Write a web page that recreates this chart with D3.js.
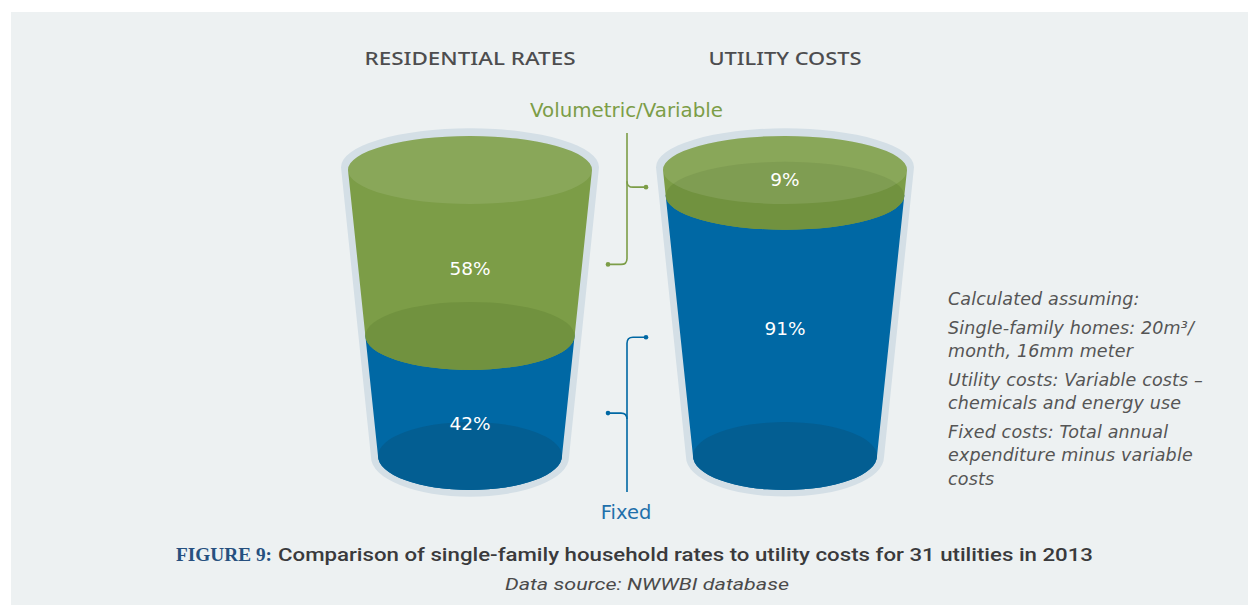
<!DOCTYPE html>
<html><head><meta charset="utf-8">
<script src="https://cdn.jsdelivr.net/npm/d3@7"></script>
<style>
html,body{margin:0;padding:0;background:#fff;}
svg{display:block;font-family:"DejaVu Sans","Noto Sans",sans-serif;}
</style></head>
<body>
<svg id="chart" width="1248" height="605"></svg>
<script>
// ---- data ----
const categories = ["RESIDENTIAL RATES", "UTILITY COSTS"];
const fixedShare = [42, 91];      // % fixed (blue, bottom)
const variableShare = [58, 9];    // % volumetric/variable (green, top)
const variableLabelLevel = [65.7, 96.9]; // where the % label sits (0-100 cup height)
const fixedLabelLevel = [11.5, 44.8];
const variableBracketLevel = [67, 94];
const fixedBracketLevel = [15, 41.5];
const seriesNames = ["Volumetric/Variable", "Fixed"];
const notes = [
  ["Calculated assuming:"],
  ["Single-family homes: 20m³/", "month, 16mm meter"],
  ["Utility costs: Variable costs –", "chemicals and energy use"],
  ["Fixed costs: Total annual", "expenditure minus variable", "costs"]
];
const captionLead = "FIGURE 9:";
const captionText = "Comparison of single-family household rates to utility costs for 31 utilities in 2013";
const sourceText = "Data source: NWWBI database";

// ---- setup ----
const svg = d3.select("#chart");
svg.append("rect").attr("x", 11).attr("y", 12).attr("width", 1248 - 11).attr("height", 605 - 12).attr("fill", "#edf1f2");

const x = d3.scalePoint().domain(categories).range([470, 785]);
const y = d3.scaleLinear().domain([0, 100]).range([456, 170]);
const r = d3.scaleLinear().domain([0, 100]).range([92, 122]);
const RY = 34;

const C = {
  glass: "#d4dfe6", green: "#7c9d47", greenDark: "#71923f",
  blue: "#0068a4", blueDark: "#035e92", title: "#4d4d4f", note: "#555555"
};

function frustum(cx, v0, v1, pad) {
  pad = pad || 0;
  const y0 = y(v0) + (pad ? pad * 0.15 : 0), y1 = y(v1) - (pad ? pad * 0.4 : 0);
  const r0 = r(v0) + pad, r1 = r(v1) + pad;
  const ry0 = RY + pad * 0.8, ry1 = RY + pad * 0.7;
  return `M${cx - r1},${y1} L${cx - r0},${y0} A${r0},${ry0} 0 0 0 ${cx + r0},${y0} L${cx + r1},${y1} A${r1},${ry1} 0 0 0 ${cx - r1},${y1} Z`;
}

function fitText(sel, w) { return sel.attr("textLength", w).attr("lengthAdjust", "spacingAndGlyphs"); }
const titleWidths = [211, 153];

categories.forEach((cat, i) => {
  const cx = x(cat);
  const g = svg.append("g");
  g.append("path").attr("d", frustum(cx, 0, 100, 7)).attr("fill", C.glass);
  g.append("path").attr("d", frustum(cx, 0, fixedShare[i])).attr("fill", C.blue);
  g.append("ellipse").attr("cx", cx).attr("cy", y(0)).attr("rx", r(0)).attr("ry", RY).attr("fill", C.blueDark);
  const top = fixedShare[i] + variableShare[i];
  g.append("path").attr("d", frustum(cx, fixedShare[i], top)).attr("fill", C.green);
  g.append("ellipse").attr("cx", cx).attr("cy", y(fixedShare[i])).attr("rx", r(fixedShare[i])).attr("ry", RY).attr("fill", C.greenDark);
  g.append("ellipse").attr("cx", cx).attr("cy", y(top)).attr("rx", r(top)).attr("ry", RY).attr("fill", "#ffffff").attr("fill-opacity", 0.1);
  g.append("text").attr("x", cx).attr("y", y(variableLabelLevel[i])).attr("dy", "0.36em")
    .attr("text-anchor", "middle").attr("fill", "#fff").attr("font-size", 18.5)
    .text(variableShare[i] + "%");
  g.append("text").attr("x", cx).attr("y", y(fixedLabelLevel[i])).attr("dy", "0.36em")
    .attr("text-anchor", "middle").attr("fill", "#fff").attr("font-size", 18.5)
    .text(fixedShare[i] + "%");
  fitText(svg.append("text").attr("x", cx - titleWidths[i] / 2).attr("y", 59).attr("dy", "0.36em")
    .style("font-family", "'Noto Sans',sans-serif").attr("font-weight", 500)
    .attr("fill", C.title).attr("font-size", 17.5).text(cat), titleWidths[i]);
});

// ---- brackets ----
const bx = 627, dotL = 608, dotR = 646, rr = 6;
function bracket(color, yTop, yBot, leftY, rightY, topIsCorner) {
  const g = svg.append("g").attr("stroke", color).attr("fill", "none").attr("stroke-width", 1.6);
  if (topIsCorner) {
    g.append("path").attr("d", `M${dotR},${rightY} L${bx + rr},${rightY} Q${bx},${rightY} ${bx},${rightY + rr} L${bx},${yBot}`);
    g.append("path").attr("d", `M${dotL},${leftY} L${bx - rr},${leftY} Q${bx},${leftY} ${bx},${leftY + rr}`);
  } else {
    g.append("path").attr("d", `M${bx},${yTop} L${bx},${leftY - rr} Q${bx},${leftY} ${bx - rr},${leftY} L${dotL},${leftY}`);
    g.append("path").attr("d", `M${bx},${rightY - rr} Q${bx},${rightY} ${bx + rr},${rightY} L${dotR},${rightY}`);
  }
  [[dotL, leftY], [dotR, rightY]].forEach(p => svg.append("circle").attr("cx", p[0]).attr("cy", p[1]).attr("r", 2.3).attr("fill", color));
}
bracket(C.green, 133, null, y(variableBracketLevel[0]), y(variableBracketLevel[1]), false);
bracket(C.blue, null, 492, y(fixedBracketLevel[0]), y(fixedBracketLevel[1]), true);

fitText(svg.append("text").attr("x", 530).attr("y", 110).attr("dy", "0.36em")
  .attr("fill", C.green).attr("font-size", 19.5).text(seriesNames[0]), 193);
svg.append("text").attr("x", bx - 1).attr("y", 512).attr("dy", "0.36em").attr("text-anchor", "middle")
  .attr("fill", "#1f70ab").attr("font-size", 19.5).text(seriesNames[1]);

// ---- notes ----
let ny = 299;
const ng = svg.append("g").attr("fill", C.note).attr("font-size", 17.5).attr("font-style", "italic");
notes.forEach((para) => {
  para.forEach((line) => {
    ng.append("text").attr("x", 948).attr("y", ny).attr("dy", "0.36em").attr("letter-spacing", 0.15).text(line);
    ny += 23.5;
  });
  ny += 5;
});

// ---- caption ----
fitText(svg.append("text").attr("x", 176).attr("y", 555).attr("dy", "0.36em").attr("font-size", 18)
  .style("font-family", "'Liberation Serif',serif").attr("font-weight", 700).attr("fill", "#26507f").text(captionLead), 96);
fitText(svg.append("text").attr("x", 278).attr("y", 555).attr("dy", "0.36em").attr("font-size", 17.5)
  .style("font-family", "Roboto,sans-serif").attr("font-weight", 500).attr("fill", "#3a3a3c").text(captionText), 815);
fitText(svg.append("text").attr("x", 505).attr("y", 584).attr("dy", "0.36em")
  .style("font-family", "Roboto,sans-serif")
  .attr("font-size", 16.5).attr("font-style", "italic").attr("fill", "#4a4a4a").text(sourceText), 284);
</script>
</body></html>
